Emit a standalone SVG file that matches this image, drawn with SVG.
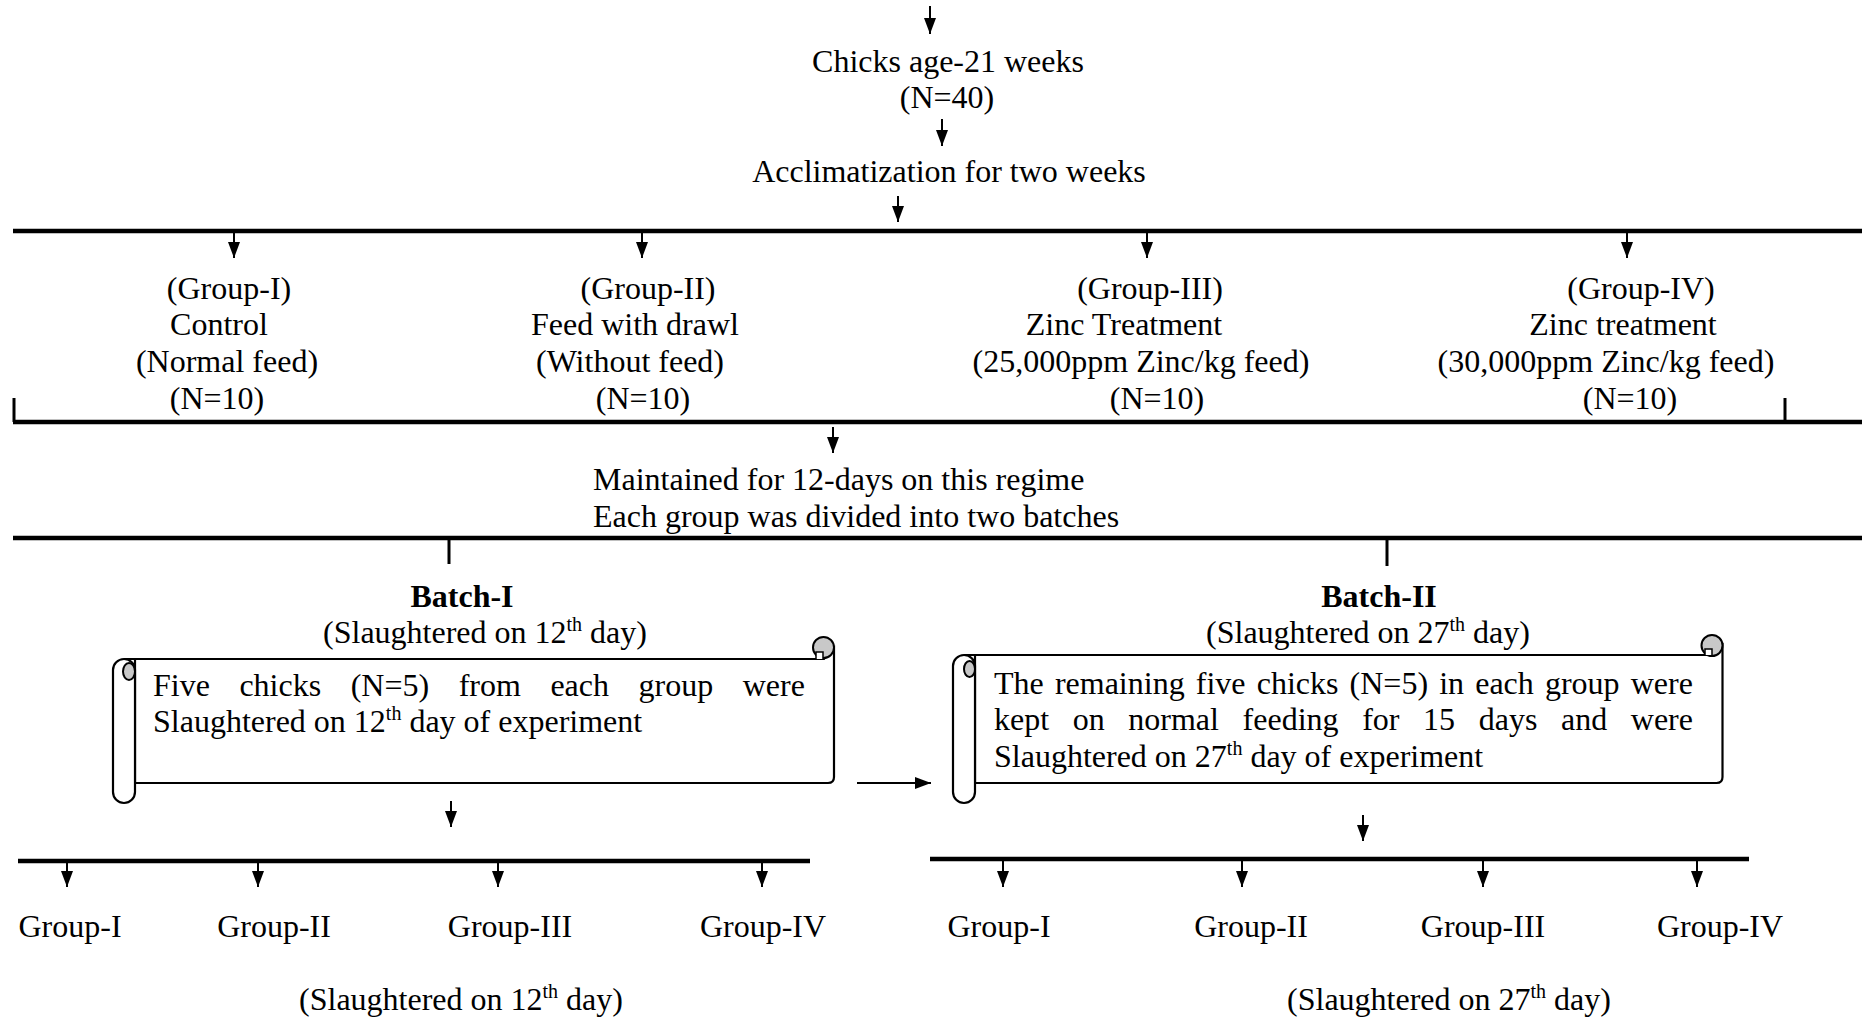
<svg xmlns="http://www.w3.org/2000/svg" width="1862" height="1017" viewBox="0 0 1862 1017">
<style>
text{font-family:"Liberation Serif","Times New Roman",serif;font-size:32px;fill:#000}
.c{text-anchor:middle}
.b{font-weight:bold}
.bar{stroke:#000;stroke-width:4.5;fill:none}
.tick{stroke:#000;stroke-width:3;fill:none}
.arr{stroke:#000;stroke-width:2;fill:none;marker-end:url(#ah)}
.scr{stroke:#000;stroke-width:2.2;fill:#fff}
.curl{stroke:#000;stroke-width:2;fill:#c8c8c8}
.sup{font-size:20px}
</style>
<defs>
<marker id="ah" viewBox="0 0 16 12" refX="16" refY="6" markerWidth="16" markerHeight="12" markerUnits="userSpaceOnUse" orient="auto">
<path d="M0,0 L16,6 L0,12 z" fill="#000"/>
</marker>
</defs>
<rect width="1862" height="1017" fill="#fff"/>

<g id="connectors">
<line class="arr" x1="930" y1="6" x2="930" y2="34"/>
<line class="arr" x1="942" y1="119" x2="942" y2="146"/>
<line class="arr" x1="898" y1="196" x2="898" y2="222"/>
<line class="bar" x1="13" y1="231" x2="1862" y2="231"/>
<line class="arr" x1="234" y1="233" x2="234" y2="258"/>
<line class="arr" x1="642" y1="233" x2="642" y2="258"/>
<line class="arr" x1="1147" y1="233" x2="1147" y2="258"/>
<line class="arr" x1="1627" y1="233" x2="1627" y2="258"/>
<line class="tick" x1="14" y1="398" x2="14" y2="422"/>
<line class="tick" x1="1785" y1="398" x2="1785" y2="422"/>
<line class="bar" x1="13" y1="422" x2="1862" y2="422"/>
<line class="arr" x1="833" y1="427" x2="833" y2="453"/>
<line class="bar" x1="13" y1="538" x2="1862" y2="538"/>
<line class="tick" x1="449" y1="540" x2="449" y2="564"/>
<line class="tick" x1="1387" y1="540" x2="1387" y2="566"/>
<line class="arr" x1="857" y1="783" x2="931" y2="783"/>
<line class="arr" x1="451" y1="801" x2="451" y2="827"/>
<line class="arr" x1="1363" y1="815" x2="1363" y2="841"/>
<line class="bar" x1="18" y1="861" x2="810" y2="861"/>
<line class="bar" x1="930" y1="859" x2="1749" y2="859"/>
<line class="arr" x1="67" y1="863" x2="67" y2="887"/>
<line class="arr" x1="258" y1="863" x2="258" y2="887"/>
<line class="arr" x1="498" y1="863" x2="498" y2="887"/>
<line class="arr" x1="762" y1="863" x2="762" y2="887"/>
<line class="arr" x1="1003" y1="861" x2="1003" y2="887"/>
<line class="arr" x1="1242" y1="861" x2="1242" y2="887"/>
<line class="arr" x1="1483" y1="861" x2="1483" y2="887"/>
<line class="arr" x1="1697" y1="861" x2="1697" y2="887"/>
</g>

<g id="chicks">
<text class="c" x="948" y="72">Chicks age-21 weeks</text>
<text class="c" x="947" y="108">(N=40)</text>
</g>

<g id="acclimatization">
<text class="c" x="949" y="182">Acclimatization for two weeks</text>
</g>

<g id="group1">
<text class="c" x="229" y="299">(Group-I)</text>
<text class="c" x="219" y="335">Control</text>
<text class="c" x="227" y="372">(Normal feed)</text>
<text class="c" x="217" y="409">(N=10)</text>
</g>
<g id="group2">
<text class="c" x="648" y="299">(Group-II)</text>
<text class="c" x="635" y="335">Feed with drawl</text>
<text class="c" x="630" y="372">(Without feed)</text>
<text class="c" x="643" y="409">(N=10)</text>
</g>
<g id="group3">
<text class="c" x="1150" y="299">(Group-III)</text>
<text class="c" x="1124" y="335">Zinc Treatment</text>
<text class="c" x="1141" y="372">(25,000ppm Zinc/kg feed)</text>
<text class="c" x="1157" y="409">(N=10)</text>
</g>
<g id="group4">
<text class="c" x="1641" y="299">(Group-IV)</text>
<text class="c" x="1623" y="335">Zinc treatment</text>
<text class="c" x="1606" y="372">(30,000ppm Zinc/kg feed)</text>
<text class="c" x="1630" y="409">(N=10)</text>
</g>

<g id="maintained">
<text x="593" y="490">Maintained for 12-days on this regime</text>
<text x="593" y="527">Each group was divided into two batches</text>
</g>

<g id="batch1">
<text class="c b" x="462" y="607">Batch-I</text>
<text class="c" x="485" y="643">(Slaughtered on 12<tspan class="sup" dy="-12">th</tspan><tspan dy="12"> day)</tspan></text>
</g>
<g id="batch2">
<text class="c b" x="1379" y="607">Batch-II</text>
<text class="c" x="1368" y="643">(Slaughtered on 27<tspan class="sup" dy="-12">th</tspan><tspan dy="12"> day)</tspan></text>
</g>

<g id="scroll1">
<path class="scr" d="M124,659 H824 L834,648 V777 Q834,783 828,783 H135 V659 Z"/>
<circle class="curl" cx="823.5" cy="647.5" r="10.5"/>
<path d="M816,659 V652 H823 V659" fill="#fff" stroke="#000" stroke-width="1.5"/>
<rect class="scr" x="113" y="659" width="22" height="144" rx="11"/>
<ellipse class="curl" cx="129" cy="671.5" rx="6" ry="8.5"/>
<text y="696"><tspan x="153">Five</tspan><tspan x="239.4">chicks</tspan><tspan x="350.7">(N=5)</tspan><tspan x="458.7">from</tspan><tspan x="550.4">each</tspan><tspan x="638.5">group</tspan><tspan x="742.7">were</tspan></text>
<text x="153" y="732">Slaughtered on 12<tspan class="sup" dy="-12">th</tspan><tspan dy="12"> day of experiment</tspan></text>
</g>

<g id="scroll2">
<path class="scr" d="M964,655 H1712 L1722.5,645 V777 Q1722.5,783 1716.5,783 H975 V655 Z"/>
<circle class="curl" cx="1712" cy="645.5" r="10.5"/>
<path d="M1705,655 V649 H1712 V655" fill="#fff" stroke="#000" stroke-width="1.5"/>
<rect class="scr" x="953" y="655" width="22" height="148" rx="11"/>
<ellipse class="curl" cx="969.5" cy="669" rx="5.5" ry="8"/>
<text y="694"><tspan x="994">The</tspan><tspan x="1054.9">remaining</tspan><tspan x="1195.8">five</tspan><tspan x="1256.7">chicks</tspan><tspan x="1349.6">(N=5)</tspan><tspan x="1439.2">in</tspan><tspan x="1475.2">each</tspan><tspan x="1544.9">group</tspan><tspan x="1630.7">were</tspan></text>
<text y="730"><tspan x="994">kept</tspan><tspan x="1072.7">on</tspan><tspan x="1128.3">normal</tspan><tspan x="1242.6">feeding</tspan><tspan x="1362.2">for</tspan><tspan x="1423.1">15</tspan><tspan x="1478.7">days</tspan><tspan x="1561">and</tspan><tspan x="1630.8">were</tspan></text>
<text x="994" y="767">Slaughtered on 27<tspan class="sup" dy="-12">th</tspan><tspan dy="12"> day of experiment</tspan></text>
</g>

<g id="batch1-groups">
<text class="c" x="70" y="937">Group-I</text>
<text class="c" x="274" y="937">Group-II</text>
<text class="c" x="510" y="937">Group-III</text>
<text class="c" x="763" y="937">Group-IV</text>
<text class="c" x="461" y="1010">(Slaughtered on 12<tspan class="sup" dy="-12">th</tspan><tspan dy="12"> day)</tspan></text>
</g>
<g id="batch2-groups">
<text class="c" x="999" y="937">Group-I</text>
<text class="c" x="1251" y="937">Group-II</text>
<text class="c" x="1483" y="937">Group-III</text>
<text class="c" x="1720" y="937">Group-IV</text>
<text class="c" x="1449" y="1010">(Slaughtered on 27<tspan class="sup" dy="-12">th</tspan><tspan dy="12"> day)</tspan></text>
</g>
</svg>
